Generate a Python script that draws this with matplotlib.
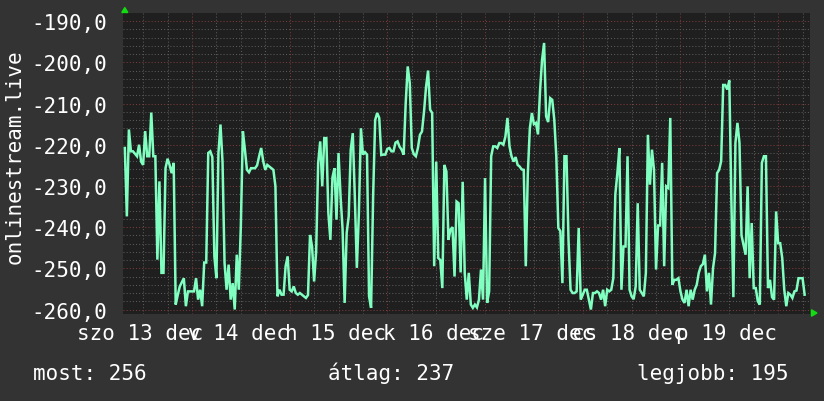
"""
Weekly onlinestream.live graph, rrdtool look-alike.
"""
import matplotlib
matplotlib.use("Agg")
import matplotlib.pyplot as plt
import matplotlib.transforms as mtransforms
from matplotlib.patches import Polygon
import numpy as np

# 30 perces minták, dec 12 07:30-tól
dec12 = [-220.8, -237.4, -216.3, -221.6, -221.6, -222.2, -222.8, -220.0, -224.1, -224.9,
         -216.7, -222.8, -222.8, -212.2, -222.8, -222.8, -247.9, -228.9, -251.1, -251.1,
         -225.7, -223.4, -224.9, -226.9, -224.4, -258.8, -256.5, -254.4, -253.4, -252.4,
         -259.2, -255.6, -255.6]
dec13 = [-255.6, -255.6, -252.4, -257.6, -255.2, -259.2, -248.6, -248.6, -222.0, -221.6,
         -223.0, -247.1, -252.4, -222.0, -215.1, -224.1, -248.7, -255.2, -249.1, -257.6,
         -253.6, -260.0, -246.7, -255.2, -239.8, -216.7, -221.2, -226.1, -226.7, -225.7,
         -225.7, -225.7, -225.0, -222.8, -220.8, -224.0, -226.1, -224.9, -225.3, -225.7,
         -226.1, -230.1, -256.8, -255.2, -256.4, -256.4, -249.5, -247.1]
dec14 = [-255.2, -255.6, -254.4, -256.0, -256.4, -256.0, -256.4, -256.8, -257.2, -256.5,
         -241.9, -244.7, -253.2, -246.0, -224.4, -219.2, -230.1, -218.4, -218.4, -236.6,
         -243.1, -228.0, -225.7, -238.2, -222.0, -232.5, -240.6, -258.4, -241.4, -237.4,
         -221.2, -217.2, -232.5, -249.9, -236.6, -216.0, -222.4, -221.8, -222.4, -256.8,
         -259.6, -232.5, -214.0, -212.3, -213.5, -222.5, -222.4, -222.4]
dec15 = [-221.0, -220.8, -221.6, -221.6, -219.5, -219.2, -220.5, -221.2, -222.4, -210.0,
         -201.0, -205.0, -220.8, -222.3, -222.8, -220.8, -217.6, -216.8, -212.0, -206.0,
         -202.0, -211.5, -212.3, -249.5, -224.1, -247.5, -248.0, -254.8, -224.9, -226.5,
         -243.1, -240.6, -240.0, -252.0, -233.8, -234.2, -251.0, -229.0, -251.1, -257.6,
         -251.1, -258.8, -259.6, -258.8, -259.5, -257.6, -250.3, -257.6]
dec16 = [-228.1, -258.4, -255.6, -222.8, -220.4, -220.4, -220.8, -219.6, -219.6, -220.0,
         -218.0, -213.5, -220.4, -222.8, -224.1, -223.0, -224.9, -225.3, -226.0, -226.1,
         -249.5, -227.0, -216.0, -212.3, -215.0, -214.7, -217.5, -207.0, -199.4, -195.3,
         -213.1, -214.5, -208.7, -209.1, -213.9, -222.8, -240.2, -241.0, -253.6, -222.8,
         -222.8, -243.1, -255.2, -256.0, -256.0, -255.6, -240.2, -257.6]
dec17 = [-256.4, -255.2, -255.2, -257.6, -260.0, -256.0, -256.0, -255.6, -256.0, -257.6,
         -255.2, -259.2, -255.2, -255.6, -255.2, -252.4, -232.1, -226.9, -220.8, -255.2,
         -244.7, -244.7, -222.8, -255.2, -256.8, -257.5, -254.4, -234.2, -255.2, -256.0,
         -256.8, -251.1, -217.6, -229.7, -221.2, -226.1, -250.3, -239.6, -239.6, -224.4,
         -249.5, -230.1, -230.5, -213.5, -254.0, -252.8, -252.8, -252.4]
dec18 = [-255.6, -257.6, -258.4, -255.2, -259.2, -255.2, -257.6, -255.2, -254.0, -251.1,
         -249.5, -249.0, -246.7, -255.6, -251.1, -258.8, -250.0, -246.3, -226.9, -226.1,
         -224.0, -205.5, -205.5, -206.6, -204.4, -233.0, -257.0, -219.6, -214.7, -219.6,
         -242.0, -244.3, -246.7, -230.1, -252.4, -239.0, -254.8, -254.8, -258.0, -258.8,
         -224.4, -222.8, -222.8, -254.8, -252.8, -257.0, -257.6, -236.2]
dec19 = [-243.9, -243.9, -247.5, -255.2, -259.2, -256.0, -256.4, -257.2, -255.6, -255.4,
         -252.4, -252.4, -252.4, -256.4]

day_labels = ["szo 13 dec", "v 14 dec", "h 15 dec", "k 16 dec",
              "sze 17 dec", "cs 18 dec", "p 19 dec"]
y_ticks = [-190, -200, -210, -220, -230, -240, -250, -260]
summary_names = ["most", "átlag", "legjobb"]
summary_values = [256, 237, 195]

W, H = 824, 402
BG = "#333333"
CANVAS = "#1f1f1f"
LINE = "#80ffc0"
FONT = 15

plt.rcParams["font.family"] = ["DejaVu Sans Mono"]


def px(x, y):
    """pixel -> figure fraction"""
    return (x / W, 1 - y / H)


values = dec12 + dec13 + dec14 + dec15 + dec16 + dec17 + dec18 + dec19
t = -16.5 / 24 + np.arange(len(values)) / 48.0  # napokban, dec 13 00:00 = 0

fig = plt.figure(figsize=(W / 100, H / 100), dpi=100, facecolor=BG)
left, right, top, bottom = 123.5, 810, 14, 315
ax = fig.add_axes([left / W, 1 - bottom / H, (right - left) / W, (bottom - top) / H])
ax.set_facecolor(CANVAS)

ax.plot(t, values, color=LINE, lw=1.8, solid_joinstyle="miter", zorder=3)

ax.set_xlim(-0.701, 6.326)
ax.set_ylim(-261.09, -188.03)

# grid: napok piros, 6 óra szürke
ax.set_xticks(np.arange(0, 7))
ax.set_xticks(np.arange(-0.5, 6.4, 0.25), minor=True)
ax.set_yticks(y_ticks, [f"{v:.1f}".replace(".", ",") for v in y_ticks])
ax.set_yticks(np.arange(-260, -188, 2), minor=True)
ax.set_axisbelow(True)
ax.grid(which="minor", color="#5a5a5a", linestyle=(0, (1, 2)), lw=0.75)
ax.grid(which="major", color="#7d3a3a", linestyle=(0, (1, 2)), lw=0.75)

ax.tick_params(which="both", length=0)
ax.tick_params(axis="x", labelbottom=False)
ax.tick_params(axis="y", labelsize=FONT, labelcolor="white", pad=11.9)
for s in ax.spines.values():
    s.set_visible(False)

# nap feliratok
trans = mtransforms.blended_transform_factory(ax.transData, ax.transAxes)
label_y = (bottom - 339.5) / (bottom - top)
for i, lab in enumerate(day_labels):
    ax.text(i - 0.527, label_y, lab, transform=trans, ha="center", va="baseline",
            fontsize=FONT, color="white")

fig.text(*px(15, 157), "onlinestream.live", rotation=90, ha="center", va="center",
         fontsize=FONT, color="white")

# összesítő sor
for name, val, x0 in zip(summary_names, summary_values, [33, 328, 637]):
    fig.text(*px(x0, 380), f"{name}: {val}", ha="left", va="baseline",
             fontsize=FONT, color="white")

# rrdtool nyilak
arrow_up = [px(124.8, 8.5), px(121.8, 13.5), px(127.8, 13.5)]
arrow_right = [px(817, 314), px(811.5, 310.8), px(811.5, 317.2)]
for pts in (arrow_up, arrow_right):
    fig.patches.append(Polygon(pts, closed=True, transform=fig.transFigure,
                               color="#11dd11", figure=fig))

fig.savefig("out.png", dpi=100, facecolor=BG)
